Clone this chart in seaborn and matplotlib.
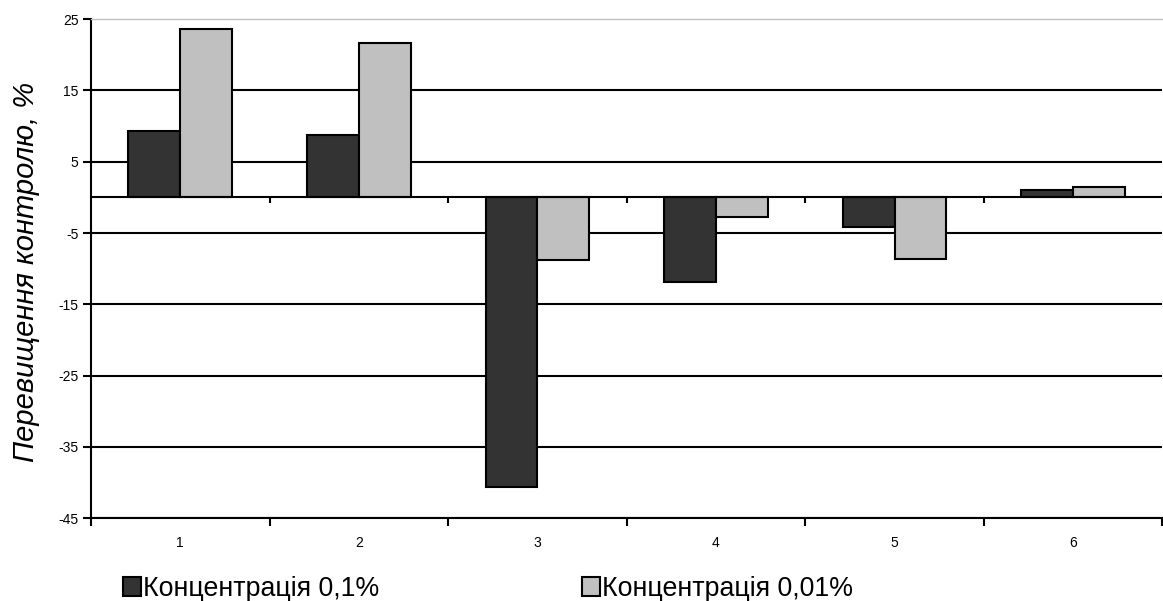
import seaborn as sns
import pandas as pd
import matplotlib.pyplot as plt
import numpy as np

# data
categories = ["1", "2", "3", "4", "5", "6"]
conc_01 = [9.3, 8.8, -40.7, -11.9, -4.1, 1.0]
conc_001 = [23.6, 21.6, -8.8, -2.8, -8.7, 1.5]
series_names = ["Концентрація 0,1%", "Концентрація 0,01%"]
y_ticks = [-45, -35, -25, -15, -5, 5, 15, 25]

df = pd.DataFrame({
    "cat": categories * 2,
    "val": conc_01 + conc_001,
    "series": [series_names[0]] * 6 + [series_names[1]] * 6,
})

sns.set_theme(style="white", rc={"text.color": "black", "xtick.color": "black",
                                 "ytick.color": "black", "axes.labelcolor": "black"})
plt.rcParams["font.family"] = ["Liberation Sans", "DejaVu Sans"]

fig = plt.figure(figsize=(11.63, 6.01), dpi=100)
ax = fig.add_axes([0.0782, 0.138, 0.9213, 0.830])

sns.barplot(data=df, x="cat", y="val", hue="series",
            palette=["#333333", "#c0c0c0"], width=0.58, gap=0,
            edgecolor="black", linewidth=1.5, saturation=1,
            errorbar=None, ax=ax, zorder=3)

ax.set_xlim(-0.5, 5.5)
ax.set_ylim(-45, 25)
ax.set_yticks(y_ticks)
ax.set_yticklabels([str(t) for t in y_ticks], fontsize=10)

# labels at category centres, ticks at boundaries
ax.set_xticks(np.arange(-0.5, 6, 1.0))
ax.set_xticklabels([])
ax.set_xticks(np.arange(6), minor=True)
ax.set_xticklabels(categories, minor=True, fontsize=10)
ax.tick_params(axis="x", which="major", length=6, width=1.5, color="black", direction="out")
ax.tick_params(axis="x", which="minor", length=0, pad=13)
ax.tick_params(axis="y", length=6, width=1.5, color="black", direction="out", pad=3)
ax.tick_params(bottom=True, left=True)

ax.yaxis.grid(True, color="black", linewidth=1.5, zorder=1)
ax.set_axisbelow(True)
ax.yaxis.get_major_ticks()[-1].gridline.set_visible(False)

# zero line with its small tick marks
ax.axhline(0, color="black", linewidth=1.5, zorder=4)
ax.vlines(np.arange(0.5, 5.0, 1.0), -0.8, 0, color="black", linewidth=1.5, zorder=4)

for side in ["left", "bottom"]:
    ax.spines[side].set_color("black")
    ax.spines[side].set_linewidth(1.5)
ax.spines["top"].set_color("#c0c0c0")
ax.spines["top"].set_linewidth(1)
ax.spines["right"].set_visible(False)

ax.set_xlabel("")
ax.set_ylabel("")
fig.text(0.022, 1 - 272 / 601, "Перевищення контролю, %", rotation=90, fontsize=21,
         style="italic", ha="center", va="center")

handles, labels = ax.get_legend_handles_labels()
ax.get_legend().remove()
fig.legend(handles, labels, loc="center left", bbox_to_anchor=(0.0965, 1 - 589 / 601),
           ncol=2, frameon=False, fontsize=19.3, handlelength=0.68, handleheight=0.68,
           handletextpad=0.05, columnspacing=7.58, borderaxespad=0)

fig.savefig("out.png", dpi=100)
